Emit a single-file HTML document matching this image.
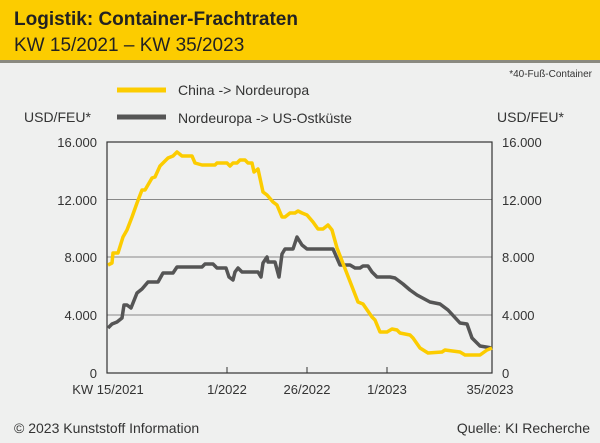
<!DOCTYPE html><html><head><style>
body{margin:0;width:600px;height:443px;overflow:hidden;background:#eff0ef;font-family:"Liberation Sans",sans-serif}
.h{position:absolute;left:0;top:0;width:600px;height:60px;background:#fccc00;border-bottom:3px solid #8a8a80}
</style></head><body>
<div class="h"></div>
<svg width="600" height="443" style="position:absolute;left:0;top:0" font-family="Liberation Sans, sans-serif">
<text x="14" y="25" font-size="19" font-weight="bold" fill="#222">Logistik: Container-Frachtraten</text>
<text x="14" y="51" font-size="19" fill="#222">KW 15/2021 – KW 35/2023</text>
<text x="592" y="77" font-size="10" fill="#333" text-anchor="end">*40-Fuß-Container</text>
<line x1="117" y1="90" x2="166" y2="90" stroke="#fccc00" stroke-width="5"/>
<text x="178" y="95" font-size="14" fill="#333">China -&gt; Nordeuropa</text>
<line x1="117" y1="117" x2="166" y2="117" stroke="#555" stroke-width="5"/>
<text x="178" y="123" font-size="14" fill="#333">Nordeuropa -&gt; US-Ostküste</text>
<text x="24" y="122" font-size="14" fill="#333">USD/FEU*</text>
<text x="497" y="122" font-size="14" fill="#333">USD/FEU*</text>
<g stroke="#888" stroke-width="1"><line x1="107" y1="199.5" x2="492" y2="199.5"/><line x1="107" y1="257" x2="492" y2="257"/><line x1="107" y1="315" x2="492" y2="315"/></g>
<rect x="107" y="142" width="385" height="231" fill="none" stroke="#333" stroke-width="1.2"/>
<g stroke="#333"><line x1="227" y1="367" x2="227" y2="373"/><line x1="307" y1="367" x2="307" y2="373"/><line x1="387" y1="367" x2="387" y2="373"/></g>
<g font-size="13" fill="#333" text-anchor="end"><text x="97" y="147">16.000</text><text x="97" y="205">12.000</text><text x="97" y="262">8.000</text><text x="97" y="320">4.000</text><text x="97" y="378">0</text></g>
<g font-size="13" fill="#333"><text x="502" y="147">16.000</text><text x="502" y="205">12.000</text><text x="502" y="262">8.000</text><text x="502" y="320">4.000</text><text x="502" y="378">0</text></g>
<g font-size="13" fill="#333" text-anchor="middle"><text x="108" y="394">KW 15/2021</text><text x="227" y="394">1/2022</text><text x="307" y="394">26/2022</text><text x="387" y="394">1/2023</text><text x="490" y="394">35/2023</text></g>
<polyline fill="none" stroke="#555" stroke-width="3.5" stroke-linejoin="round" points="108,328 112,324 117,322 122,318 124,305 127,305 131,308 133,303 137,293 142,289 148,282 158,282 163,273 173,273 177,267 202,267 205,264 213,264 217,268 226,268 229,277 233,280 235,272 238,268 242,272 258,272 261,277 263,263 267,257 268,262 275,262 279,277 282,254 285,249 293,249 297,237 302,245 307,249 333,249 340,265 350,265 355,268 360,268 363,266 368,266 372,272 377,277 390,277 395,278 403,284 410,290 417,295 430,302 440,304 448,310 460,323 467,324 472,338 480,346 492,348"/>
<polyline fill="none" stroke="#fccc00" stroke-width="3.5" stroke-linejoin="round" points="108,265 112,263 113,253 118,253 123,237 127,230 132,217 137,203 142,190 145,190 152,178 155,177 160,166 168,158 173,156 177,152 182,156 192,156 195,163 202,165 215,165 217,163 227,163 230,166 233,163 237,163 240,160 245,160 248,163 252,163 254,172 258,169 263,192 267,195 273,202 277,205 282,217 285,217 290,213 295,213 298,211 302,213 307,215 313,222 318,229 323,229 328,225 332,230 337,248 358,302 363,304 372,317 375,320 380,332 387,332 392,329 397,330 400,333 410,335 413,338 420,348 428,353 442,352 445,350 460,352 465,355 480,355 487,350 492,348"/>
<text x="14" y="433" font-size="14" fill="#333">© 2023 Kunststoff Information</text>
<text x="590" y="433" font-size="14" fill="#333" text-anchor="end">Quelle: KI Recherche</text>
</svg>
</body></html>
